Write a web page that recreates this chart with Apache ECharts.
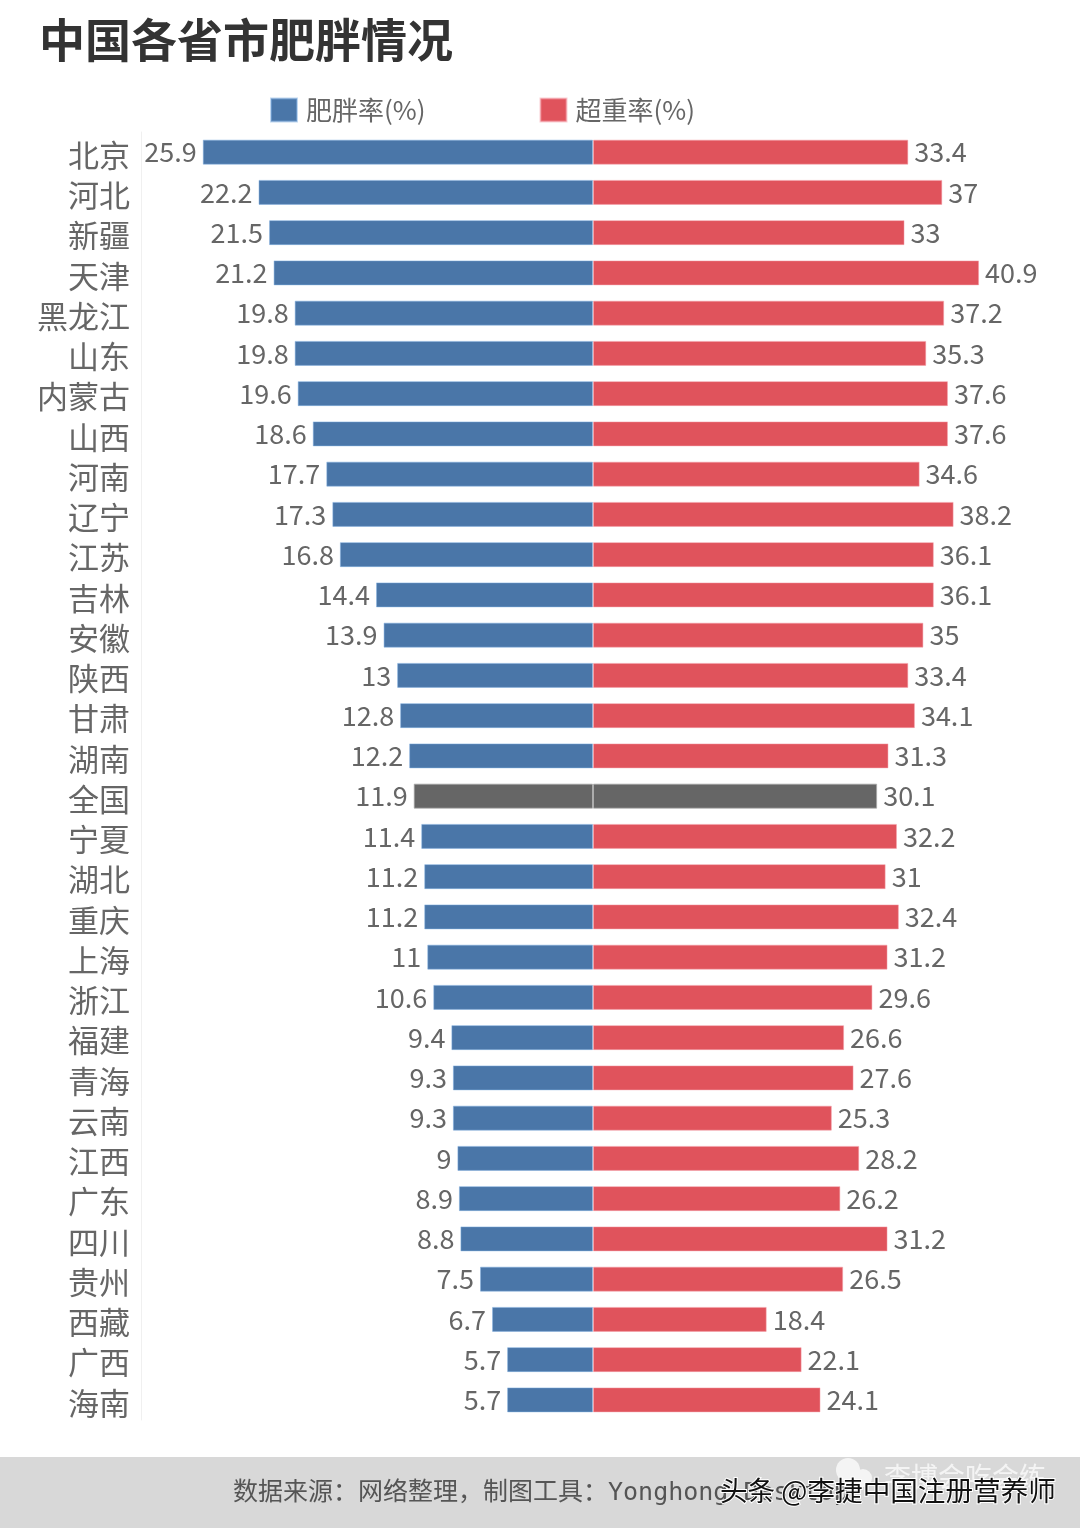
<!doctype html>
<html>
<head>
<meta charset="utf-8">
<style>
    html, body {margin: 0; padding: 0; background: #fff;}
    #chart {width: 1080px; height: 1528px;}
</style>
<script src="https://cdn.jsdelivr.net/npm/echarts@6/dist/echarts.min.js"></script>
</head>
<body>
<div id="chart"></div>
<script>
    var categories = ['北京', '河北', '新疆', '天津', '黑龙江', '山东', '内蒙古', '山西', '河南', '辽宁', '江苏', '吉林', '安徽', '陕西', '甘肃', '湖南', '全国', '宁夏', '湖北', '重庆', '上海', '浙江', '福建', '青海', '云南', '江西', '广东', '四川', '贵州', '西藏', '广西', '海南'];
    var obesity = [25.9, 22.2, 21.5, 21.2, 19.8, 19.8, 19.6, 18.6, 17.7, 17.3, 16.8, 14.4, 13.9, 13, 12.8, 12.2, 11.9, 11.4, 11.2, 11.2, 11, 10.6, 9.4, 9.3, 9.3, 9, 8.9, 8.8, 7.5, 6.7, 5.7, 5.7];
    var overweight = [33.4, 37, 33, 40.9, 37.2, 35.3, 37.6, 37.6, 34.6, 38.2, 36.1, 36.1, 35, 33.4, 34.1, 31.3, 30.1, 32.2, 31, 32.4, 31.2, 29.6, 26.6, 27.6, 25.3, 28.2, 26.2, 31.2, 26.5, 18.4, 22.1, 24.1];

    var FONT = '"Noto Sans CJK SC", "Noto Sans", sans-serif';
    var BLUE = '#4a76a8', RED = '#e0535c', GREY = '#666666';

    // 全国这一行用灰色
    function toItems(values) {
        return values.map(function (v, i) {
            return categories[i] === '全国' ? {
                value: v,
                itemStyle: {color: GREY, borderColor: 'rgba(170,170,170,0.7)'}
            } : v;
        });
    }

    function barLabel(position) {
        return {
            show: true,
            position: position,
            distance: 6,
            color: '#666',
            fontFamily: FONT,
            fontSize: 27
        };
    }

    var myChart = echarts.init(document.getElementById('chart'), null, {renderer: 'canvas'});

    var option = {
        animation: false,
        backgroundColor: '#fff',
        title: [
            {
                text: '中国各省市肥胖情况',
                left: 34,
                top: 12,
                textStyle: {color: '#333', fontFamily: FONT, fontWeight: 'bold', fontSize: 46}
            },
            {
                text: '数据来源：网络整理，制图工具：Yonghong Desktop',
                left: 228,
                top: 1476,
                textStyle: {
                    color: '#555',
                    fontFamily: '"DejaVu Sans Mono", "Noto Sans CJK SC", monospace',
                    fontWeight: 'normal',
                    fontSize: 25
                }
            },
            {
                text: '李博会吃会练',
                left: 879,
                top: 1458,
                textStyle: {color: '#f4f4f4', fontFamily: FONT, fontWeight: 'normal', fontSize: 27}
            },
            {
                text: '头条 @李捷中国注册营养师',
                left: 715,
                top: 1472,
                textStyle: {
                    color: '#111',
                    fontFamily: FONT,
                    fontWeight: 'normal',
                    fontSize: 27.6,
                    textBorderColor: '#fff',
                    textBorderWidth: 2
                }
            }
        ],
        legend: {
            left: 265,
            top: 92,
            itemWidth: 26,
            itemHeight: 23,
            itemGap: 114,
            icon: 'rect',
            textStyle: {color: '#666', fontFamily: FONT, fontSize: 26, padding: [0, 0, 0, 4]},
            data: ['肥胖率(%)', '超重率(%)']
        },
        graphic: [
            {
                type: 'rect',
                z: -1,
                shape: {x: 0, y: 1457, width: 1080, height: 71},
                style: {fill: '#d8d8d8'}
            },
            {type: 'circle', z: -1, shape: {cx: 848, cy: 1470, r: 12}, style: {fill: '#f4f4f4'}},
            {type: 'circle', z: -1, shape: {cx: 863, cy: 1478, r: 9}, style: {fill: '#f4f4f4'}}
        ],
        grid: [
            {left: 141, top: 132, width: 452, height: 1288},
            {left: 593, top: 132, width: 472, height: 1288}
        ],
        xAxis: [
            {type: 'value', gridIndex: 0, inverse: true, min: 0, max: 30, show: false},
            {type: 'value', gridIndex: 1, min: 0, max: 50, show: false}
        ],
        yAxis: [
            {
                type: 'category',
                gridIndex: 0,
                inverse: true,
                position: 'left',
                data: categories,
                axisTick: {show: false},
                axisLine: {onZero: false, lineStyle: {color: '#f0f0f0'}},
                axisLabel: {
                    margin: 11,
                    interval: 0,
                    formatter: '{a|{value}}',
                    rich: {
                        a: {
                            color: '#666',
                            fontFamily: FONT,
                            fontSize: 31,
                            padding: [6, 0, 0, 0]
                        }
                    }
                }
            },
            {
                type: 'category',
                gridIndex: 1,
                inverse: true,
                data: categories,
                axisTick: {show: false},
                axisLine: {show: false},
                axisLabel: {show: false}
            }
        ],
        series: [
            {
                name: '肥胖率(%)',
                type: 'bar',
                xAxisIndex: 0,
                yAxisIndex: 0,
                barWidth: 25,
                itemStyle: {color: BLUE, borderColor: 'rgba(130,175,225,0.5)', borderWidth: 1},
                label: barLabel('left'),
                data: toItems(obesity)
            },
            {
                name: '超重率(%)',
                type: 'bar',
                xAxisIndex: 1,
                yAxisIndex: 1,
                barWidth: 25,
                itemStyle: {color: RED, borderColor: 'rgba(245,160,170,0.5)', borderWidth: 1},
                label: barLabel('right'),
                data: toItems(overweight)
            }
        ]
    };

    myChart.setOption(option);
</script>
</body>
</html>
